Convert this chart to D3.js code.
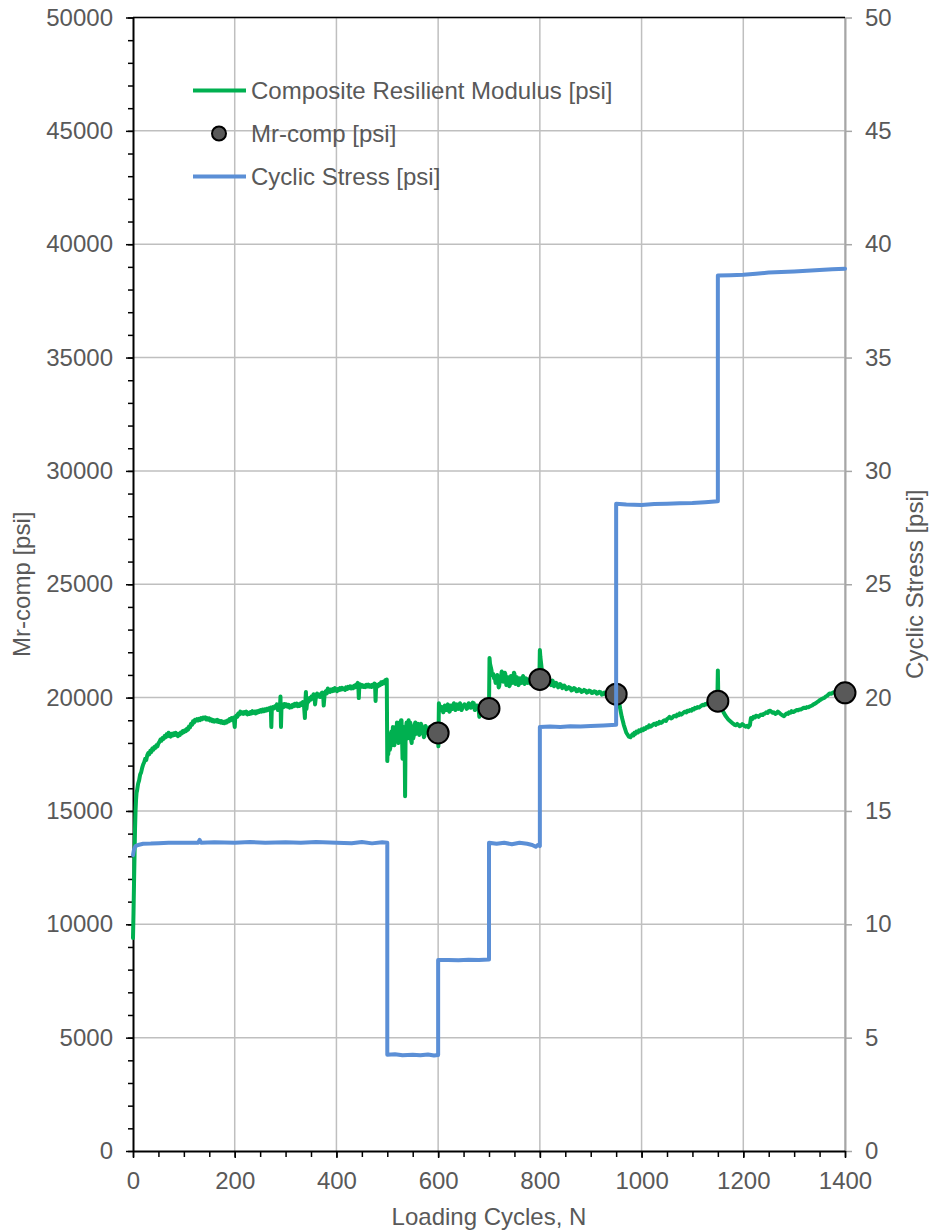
<!DOCTYPE html>
<html>
<head>
<meta charset="utf-8">
<script src="https://cdn.jsdelivr.net/npm/d3@7"></script>
<style>
  html, body { margin: 0; padding: 0; background: #ffffff; }
  svg { display: block; }
  text { font-family: "Liberation Sans", Arial, sans-serif; }
</style>
</head>
<body>
<svg id="chart" width="936" height="1232"></svg>
<script>
// ---- data -------------------------------------------------------------
// Composite resilient modulus trace [cycle, psi]
const modulusTrace = [
  [0,9400],[1,10500],[2,11800],[3,13000],[4,14200],[5,15000],[6,15500],[7,15800],[8,15900],[10,16200],
  [12,16350],[14,16600],[16,16700],[18,16900],[20,17050],[22,17150],[24,17300],[26,17250],[28,17450],
  [30,17550],[32,17500],[34,17650],[36,17600],[38,17750],[40,17700],[42,17820],[44,17780],[46,17900],
  [48,17850],[50,17980],[52,18050],[54,18150],[56,18100],[58,18220],[60,18180],[62,18300],[64,18250],
  [66,18380],[68,18300],[70,18450],[72,18330],[74,18280],[76,18400],[78,18330],[80,18420],[82,18360],
  [84,18450],[86,18380],[88,18300],[90,18400],[92,18350],[94,18460],[96,18420],[98,18520],[100,18480],
  [102,18560],[104,18520],[106,18620],[108,18580],[110,18720],[112,18680],[114,18850],[116,18800],
  [118,18950],[120,18900],[122,19020],[124,18980],[126,19050],[128,18990],[130,19060],[132,19010],
  [134,19100],[136,19050],[138,19120],[140,19080],[142,19130],[144,19040],[146,19100],[148,19030],
  [150,19080],[152,18990],[154,19040],[156,18960],[158,19010],[160,18940],[162,19000],[164,18950],
  [166,19020],[168,18930],[170,18970],[172,18900],[174,18960],[176,18880],[178,18930],[180,18870],
  [182,18950],[184,18900],[186,18990],[188,18950],[190,19050],[192,19000],[194,19100],[196,19050],
  [198,19120],[200,18700],[201,19100],[203,19200],[205,19150],[207,19300],[209,19250],[211,19380],
  [213,19300],[215,19350],[217,19280],[219,19360],[221,19300],[223,19380],[225,19260],[227,19330],
  [229,19280],[231,19360],[233,19300],[235,19400],[237,19330],[239,19380],[241,19300],[243,19390],
  [245,19340],[247,19420],[249,19370],[251,19450],[253,19380],[255,19470],[257,19400],[259,19480],
  [261,19420],[263,19500],[265,19450],[267,19530],[269,19480],[271,19560],[272,18700],[273,19500],
  [275,19580],[277,19520],[279,19620],[281,19560],[283,19700],[285,19450],[287,19650],[289,19600],
  [290,20050],[291,18700],[292,19620],[294,19700],[296,19580],[298,19720],[300,19620],[302,19700],
  [304,19600],[306,19680],[308,19560],[310,19640],[312,19580],[314,19680],[316,19620],[318,19720],
  [320,19650],[322,19740],[324,19620],[326,19700],[328,19640],[330,19750],[332,19680],[334,19800],
  [336,19720],[338,19100],[339,19850],[340,20250],[341,19500],[343,19900],[345,19820],[347,19980],
  [349,19900],[351,20050],[353,19950],[355,20150],[357,20000],[358,19700],[360,20100],[362,20180],
  [364,20050],[366,20120],[368,20030],[370,20180],[372,20220],[374,20100],[375,19650],[377,20200],
  [379,20280],[381,20180],[383,20400],[385,20300],[387,20250],[389,20350],[391,20280],[393,20380],
  [395,20300],[397,20420],[399,20330],[401,20280],[403,20380],[405,20330],[407,20420],[409,20350],
  [411,20430],[413,20370],[415,20400],[417,20340],[419,20450],[421,20380],[423,20470],[425,20420],
  [427,20500],[429,20400],[431,20480],[433,20420],[435,20520],[437,20460],[439,20580],[441,20520],
  [442,20650],[443,20550],[444,19980],[445,20500],[447,20580],[449,20480],[451,20550],[453,20470],
  [455,20530],[457,20460],[459,20560],[461,20490],[463,20570],[465,20480],[467,20540],[469,20470],
  [471,20560],[473,20500],[475,20620],[476,20540],[477,19850],[478,20480],[480,20560],[482,20500],
  [484,20600],[486,20550],[488,20680],[490,20600],[492,20700],[494,20640],[496,20760],[498,20700],
  [499,20800],[500,17200],[501,17900],[502,17500],[503,18200],[504,18300],[505,17700],[506,17800],
  [507,18400],[508,18500],[509,17900],[510,18100],[511,18700],[512,18600],[513,18000],[514,17900],
  [515,18600],[516,18700],[517,18100],[518,18200],[519,18900],[520,18800],[521,18100],[522,18000],
  [523,18800],[524,18900],[525,18200],[526,18300],[527,19000],[528,19000],[529,18200],[530,17300],
  [531,18500],[532,18700],[533,18100],[534,18400],[535,15650],[536,18300],[537,18700],[538,18900],
  [539,18300],[540,18200],[541,18800],[542,19000],[543,18300],[544,18400],[545,18900],[546,18800],
  [547,18100],[548,18000],[549,18600],[550,18700],[551,18200],[552,18300],[554,18800],[555,18900],
  [557,18400],[558,18500],[560,18850],[561,18750],[563,18350],[564,18400],[566,18850],[567,18800],
  [569,18500],[570,18600],[572,18250],[573,18300],[575,18750],[576,18700],[578,18450],[579,18500],
  [581,18650],[582,18550],[584,18700],[585,18600],[587,18400],[588,18450],[590,18600],[591,18500],
  [593,18350],[594,18380],[596,18500],[597,18450],[599,18350],[600,18300],[600.5,17850],[601.5,19750],
  [603,19500],[605,19450],[606,19600],[608,19550],[610,19350],[611,19400],[613,19650],[614,19600],
  [616,19450],[617,19500],[619,19700],[620,19650],[622,19380],[623,19400],[625,19650],[626,19600],
  [628,19500],[629,19550],[631,19750],[632,19700],[634,19450],[635,19480],[637,19700],[638,19650],
  [640,19500],[641,19550],[643,19750],[644,19700],[646,19450],[647,19500],[649,19650],[650,19600],
  [652,19700],[654,19650],[656,19500],[658,19550],[660,19750],[662,19700],[664,19550],[666,19600],
  [668,19780],[670,19750],[672,19450],[674,19500],[676,19650],[678,19600],[680,19400],[681,19150],
  [682,19500],[684,19550],[686,19450],[688,19500],[690,19650],[692,19600],[694,19420],[696,19450],
  [698,19600],[700,19550],[701,21750],[702,21500],[703,21400],[705,21200],[706,21000],[708,21050],
  [710,20850],[711,20900],[713,20650],[714,20700],[716,21000],[717,20950],[719,20450],[720,20500],
  [722,20850],[723,20800],[725,21150],[726,21100],[728,20700],[729,20750],[731,21100],[732,21050],
  [734,20550],[735,20600],[737,20900],[738,20850],[740,20500],[741,20550],[743,20950],[744,20900],
  [746,20650],[747,20700],[749,21100],[750,21050],[752,20600],[753,20650],[755,20900],[756,20850],
  [758,20550],[759,20600],[761,20850],[762,20800],[764,20650],[765,20700],[767,20950],[768,20900],
  [770,20600],[771,20650],[773,20850],[774,20800],[776,20650],[777,20700],[779,20800],[780,20750],
  [782,20600],[783,20650],[785,20750],[786,20700],[788,20580],[790,20620],[793,20720],[795,20680],
  [797,20780],[799,20750],[800,22100],[801,21800],[802,21600],[804,21200],[805,21100],[807,20800],
  [808,20850],[810,20550],[811,20600],[813,20800],[814,20750],[816,20600],[817,20650],[819,20750],
  [820,20700],[822,20550],[823,20600],[825,20750],[826,20700],[828,20500],[830,20550],[832,20650],
  [834,20600],[836,20450],[838,20500],[840,20600],[842,20550],[844,20420],[846,20450],[848,20530],
  [850,20480],[852,20370],[855,20400],[857,20460],[860,20420],[862,20320],[865,20350],[867,20420],
  [870,20380],[872,20280],[875,20300],[877,20370],[880,20330],[882,20250],[885,20280],[887,20340],
  [890,20300],[892,20220],[895,20250],[897,20310],[900,20280],[902,20200],[905,20220],[907,20280],
  [910,20250],[912,20170],[915,20200],[917,20260],[920,20230],[922,20130],[925,20150],[927,20220],
  [930,20200],[932,20100],[935,20120],[937,20190],[940,20170],[942,20080],[945,20100],[947,20170],
  [950,20150],[955,19900],[958,19500],[961,19150],[965,18800],[970,18450],[975,18280],[978,18250],
  [982,18380],[984,18330],[986,18450],[988,18400],[990,18500],[993,18460],[995,18560],[998,18520],
  [1000,18600],[1003,18560],[1005,18650],[1008,18620],[1010,18700],[1013,18680],[1015,18780],
  [1018,18720],[1020,18750],[1023,18820],[1025,18850],[1028,18800],[1030,18880],[1033,18850],
  [1035,18930],[1038,18880],[1040,18900],[1043,18980],[1045,19000],[1048,18970],[1050,19050],
  [1053,19100],[1055,19150],[1058,19080],[1060,19100],[1063,19180],[1065,19200],[1068,19170],
  [1070,19250],[1073,19220],[1075,19300],[1078,19250],[1080,19280],[1083,19350],[1085,19380],
  [1088,19350],[1090,19420],[1093,19400],[1095,19450],[1098,19420],[1100,19500],[1103,19480],
  [1105,19550],[1108,19530],[1110,19580],[1113,19560],[1115,19600],[1118,19650],[1120,19680],
  [1123,19660],[1125,19720],[1128,19700],[1130,19760],[1133,19740],[1135,19800],[1138,19790],
  [1140,19830],[1143,19820],[1145,19850],[1149,19900],[1150,21200],[1151,19850],[1155,19600],
  [1160,19400],[1165,19200],[1170,19050],[1175,18950],[1180,18850],[1183,18800],[1185,18780],
  [1188,18840],[1190,18800],[1193,18740],[1195,18760],[1198,18830],[1200,18800],[1203,18740],
  [1205,18720],[1208,18760],[1210,18700],[1213,18780],[1215,19100],[1218,19060],[1220,19150],
  [1223,19120],[1225,19200],[1228,19180],[1230,19150],[1233,19220],[1235,19250],[1238,19230],
  [1240,19280],[1243,19300],[1245,19350],[1248,19320],[1250,19400],[1253,19420],[1255,19380],
  [1258,19330],[1260,19350],[1263,19280],[1265,19300],[1268,19380],[1270,19350],[1273,19280],
  [1275,19250],[1278,19200],[1280,19180],[1283,19260],[1285,19300],[1288,19280],[1290,19350],
  [1293,19330],[1295,19400],[1298,19360],[1300,19380],[1303,19430],[1305,19450],[1308,19440],
  [1310,19480],[1313,19470],[1315,19500],[1318,19540],[1320,19550],[1323,19540],[1325,19580],
  [1328,19570],[1330,19600],[1333,19630],[1335,19650],[1338,19700],[1340,19720],[1343,19760],
  [1345,19800],[1348,19840],[1350,19880],[1353,19920],[1355,19950],[1358,19980],[1360,20000],
  [1363,20060],[1365,20080],[1368,20150],[1370,20180],[1373,20170],[1375,20200],[1378,20240],
  [1380,20230],[1383,20270],[1385,20250],[1388,20200],[1390,20220],[1393,20280],[1395,20260],
  [1398,20230],[1400,20250]
];

// Mr-comp points at the end of each loading sequence
const mrCycles = [600, 700, 800, 950, 1150, 1400];
const mrValues = [18440, 19520, 20800, 20150, 19840, 20210];

// Cyclic stress trace [cycle, psi] on the secondary axis
const stressTrace = [
  [0,13.05],[2,13.3],[5,13.45],[10,13.5],[20,13.55],[35,13.56],[50,13.58],[70,13.6],[100,13.6],
  [128,13.6],[131,13.72],[134,13.6],[160,13.62],[200,13.6],[230,13.63],[260,13.6],[300,13.62],
  [330,13.6],[360,13.63],[400,13.6],[430,13.58],[450,13.63],[470,13.57],[490,13.62],[500,13.6],
  [500,4.25],[515,4.27],[530,4.22],[550,4.25],[565,4.22],[580,4.26],[592,4.21],[600,4.23],
  [600,8.42],[620,8.43],[640,8.41],[660,8.44],[680,8.42],[700,8.45],
  [700,13.6],[715,13.55],[730,13.6],[745,13.53],[760,13.6],[775,13.55],[785,13.5],[792,13.42],
  [796,13.5],[800,13.45],
  [800,18.7],[820,18.72],[840,18.7],[860,18.74],[880,18.72],[900,18.75],[925,18.77],[950,18.8],
  [950,28.55],[970,28.52],[1000,28.5],[1025,28.54],[1050,28.55],[1075,28.57],[1100,28.58],
  [1125,28.62],[1150,28.66],
  [1150,38.62],[1175,38.63],[1200,38.65],[1225,38.7],[1250,38.75],[1275,38.77],[1300,38.8],
  [1325,38.83],[1350,38.86],[1375,38.9],[1400,38.92]
];

// axis ticks
const xTicks = [0, 200, 400, 600, 800, 1000, 1200, 1400];
const yLeftTicks = [0, 5000, 10000, 15000, 20000, 25000, 30000, 35000, 40000, 45000, 50000];
const yRightTicks = [0, 5, 10, 15, 20, 25, 30, 35, 40, 45, 50];

const legendItems = ["Composite Resilient Modulus [psi]", "Mr-comp [psi]", "Cyclic Stress [psi]"];

// ---- layout -----------------------------------------------------------
const plot = { left: 133, right: 845, top: 17.5, bottom: 1151 };
const GREEN = "#00b050", BLUE = "#5b8fd6", MARKER = "#595959", GRID = "#bfbfbf", LABEL = "#595959";
const FONT = 24;
const FAMILY = "'Liberation Sans', Arial, sans-serif";

const svg = d3.select("#chart");

const x = d3.scaleLinear().domain([0, 1400]).range([plot.left, plot.right]);
const yL = d3.scaleLinear().domain([0, 50000]).range([plot.bottom, plot.top]);
const yR = d3.scaleLinear().domain([0, 50]).range([plot.bottom, plot.top]);

// gridlines
const grid = svg.append("g").attr("stroke", GRID).attr("stroke-width", 1.5);
grid.selectAll("line.v").data(xTicks.filter(d => d > 0)).join("line")
  .attr("x1", d => x(d)).attr("x2", d => x(d))
  .attr("y1", plot.top).attr("y2", plot.bottom);
grid.selectAll("line.h").data(yLeftTicks.filter(d => d > 0)).join("line")
  .attr("x1", plot.left).attr("x2", plot.right)
  .attr("y1", d => yL(d)).attr("y2", d => yL(d));

function styleLabels(g) {
  g.selectAll(".tick text").attr("fill", LABEL)
    .style("font-size", FONT + "px").style("font-family", FAMILY);
}

// right axis (gray)
const rightAxis = svg.append("g")
  .attr("transform", `translate(${plot.right},0)`)
  .call(d3.axisRight(yR).tickValues(yRightTicks).tickSize(7).tickSizeOuter(0).tickPadding(13).tickFormat(d3.format("d")));
rightAxis.select(".domain").attr("stroke", "#a6a6a6").attr("stroke-width", 2);
rightAxis.selectAll(".tick line").attr("stroke", "#a6a6a6").attr("stroke-width", 1.5);
styleLabels(rightAxis);

// top border
svg.append("line")
  .attr("x1", plot.left).attr("x2", plot.right)
  .attr("y1", plot.top).attr("y2", plot.top)
  .attr("stroke", "#000").attr("stroke-width", 1.5);

// minor ticks
svg.append("g").attr("transform", `translate(${plot.left},0)`)
  .call(d3.axisLeft(yL).tickValues(d3.range(0, 50001, 1000)).tickSize(5).tickFormat(""))
  .call(g => g.select(".domain").remove())
  .selectAll(".tick line").attr("stroke", "#000").attr("stroke-width", 1.5);
svg.append("g").attr("transform", `translate(0,${plot.bottom})`)
  .call(d3.axisBottom(x).tickValues(d3.range(0, 1401, 50)).tickSize(6).tickFormat(""))
  .call(g => g.select(".domain").remove())
  .selectAll(".tick line").attr("stroke", "#000").attr("stroke-width", 1.5);

// left axis
const leftAxis = svg.append("g")
  .attr("transform", `translate(${plot.left},0)`)
  .call(d3.axisLeft(yL).tickValues(yLeftTicks).tickSize(7).tickSizeOuter(0).tickPadding(13).tickFormat(d3.format("d")));
leftAxis.select(".domain").attr("stroke", "#000").attr("stroke-width", 2);
leftAxis.selectAll(".tick line").attr("stroke", "#000").attr("stroke-width", 1.5);
styleLabels(leftAxis);

// bottom axis
const bottomAxis = svg.append("g")
  .attr("transform", `translate(0,${plot.bottom})`)
  .call(d3.axisBottom(x).tickValues(xTicks).tickSize(7).tickSizeOuter(0).tickPadding(14).tickFormat(d3.format("d")));
bottomAxis.select(".domain").attr("stroke", "#000").attr("stroke-width", 2);
bottomAxis.selectAll(".tick line").attr("stroke", "#000").attr("stroke-width", 1.5);
styleLabels(bottomAxis);

// ---- series -----------------------------------------------------------
const modLine = d3.line().x(d => x(d[0])).y(d => yL(d[1]));
svg.append("path").datum(modulusTrace)
  .attr("d", modLine)
  .attr("fill", "none").attr("stroke", GREEN).attr("stroke-width", 4)
  .attr("stroke-linejoin", "round").attr("stroke-linecap", "round");

svg.append("g").selectAll("circle").data(mrCycles).join("circle")
  .attr("cx", d => x(d)).attr("cy", (d, i) => yL(mrValues[i]))
  .attr("r", 10.5).attr("fill", MARKER).attr("stroke", "#000").attr("stroke-width", 2);

const stressLine = d3.line().x(d => x(d[0])).y(d => yR(d[1]));
svg.append("path").datum(stressTrace)
  .attr("d", stressLine)
  .attr("fill", "none").attr("stroke", BLUE).attr("stroke-width", 4)
  .attr("stroke-linejoin", "round").attr("stroke-linecap", "round");

// ---- legend -----------------------------------------------------------
const legend = svg.append("g");
const legendY = [90.5, 133.5, 176.5];
legend.append("line").attr("x1", 193).attr("x2", 246).attr("y1", legendY[0]).attr("y2", legendY[0])
  .attr("stroke", GREEN).attr("stroke-width", 4);
legend.append("circle").attr("cx", 219).attr("cy", legendY[1]).attr("r", 7)
  .attr("fill", MARKER).attr("stroke", "#000").attr("stroke-width", 2);
legend.append("line").attr("x1", 193).attr("x2", 246).attr("y1", legendY[2]).attr("y2", legendY[2])
  .attr("stroke", BLUE).attr("stroke-width", 4);
legend.selectAll("text").data(legendItems).join("text")
  .attr("x", 251).attr("y", (d, i) => legendY[i])
  .attr("dy", "0.35em").attr("fill", LABEL).style("font-size", FONT + "px")
  .text(d => d);

// ---- axis titles ------------------------------------------------------
svg.append("text")
  .attr("x", (plot.left + plot.right) / 2).attr("y", 1225)
  .attr("text-anchor", "middle").attr("fill", LABEL).style("font-size", FONT + "px")
  .text("Loading Cycles, N");
svg.append("text")
  .attr("transform", `translate(30,${(plot.top + plot.bottom) / 2}) rotate(-90)`)
  .attr("text-anchor", "middle").attr("fill", LABEL).style("font-size", FONT + "px")
  .text("Mr-comp [psi]");
svg.append("text")
  .attr("transform", `translate(923,${(plot.top + plot.bottom) / 2}) rotate(-90)`)
  .attr("text-anchor", "middle").attr("fill", LABEL).style("font-size", FONT + "px")
  .text("Cyclic Stress [psi]");
</script>
</body>
</html>
